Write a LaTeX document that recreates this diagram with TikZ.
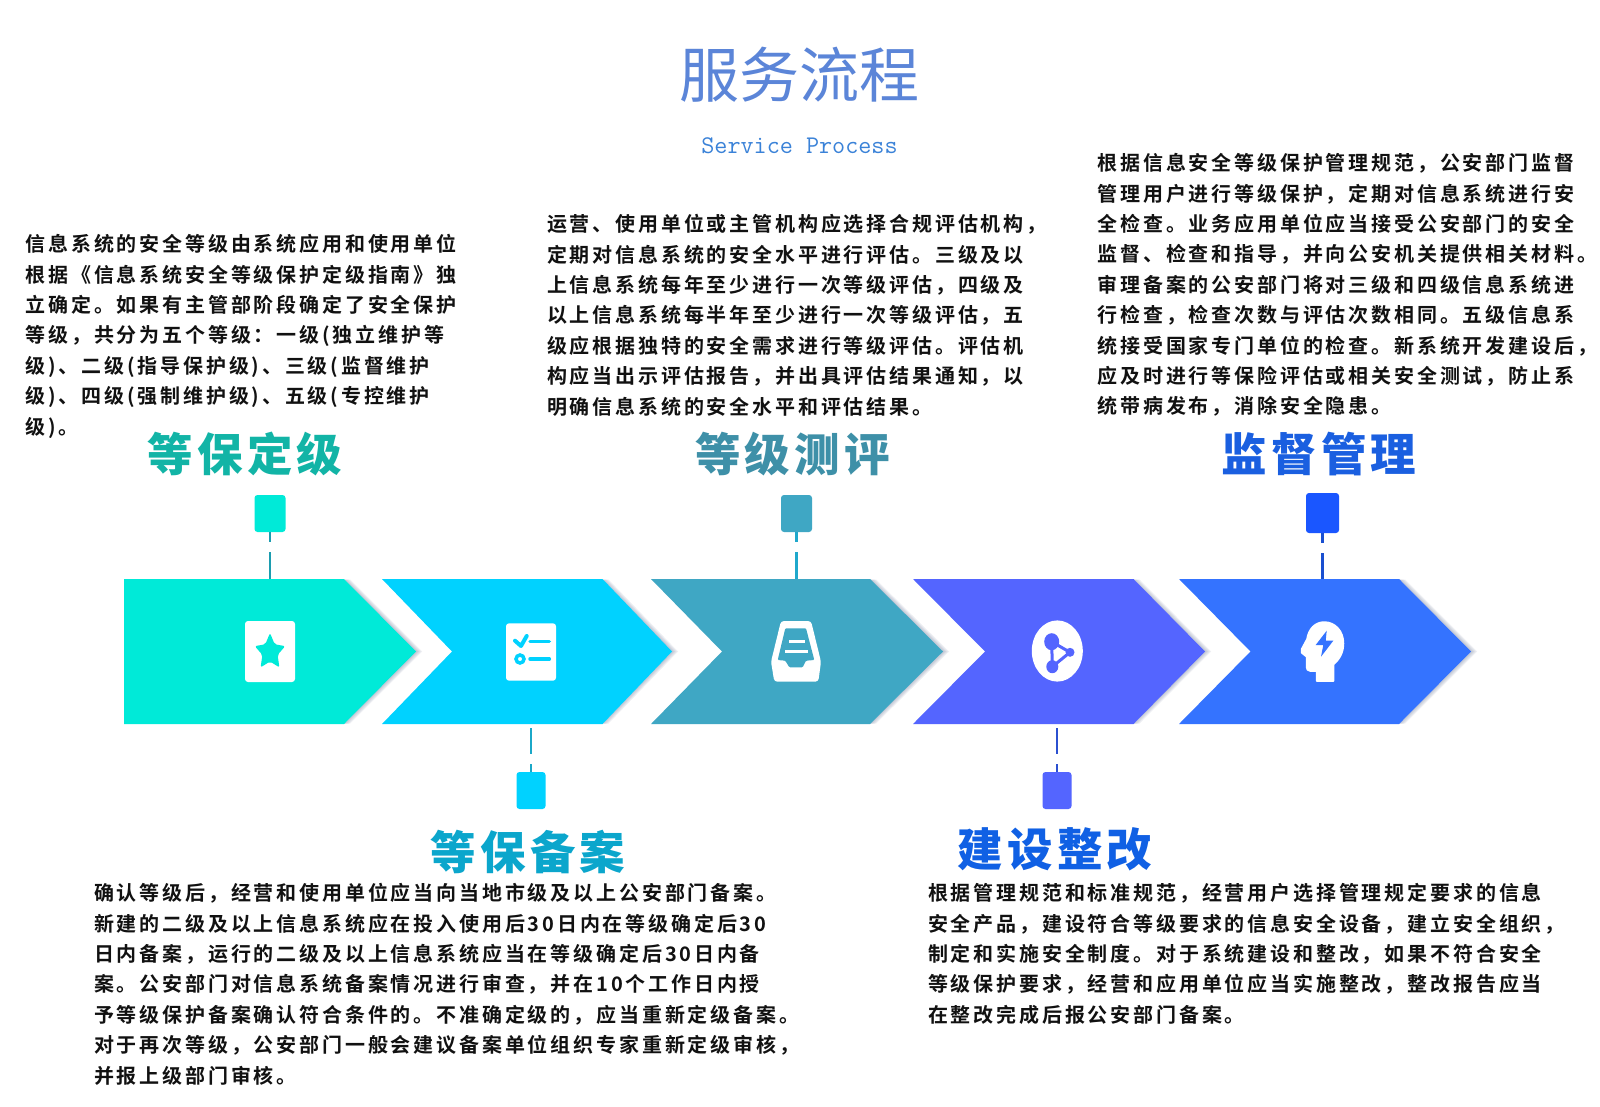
\documentclass[tikz,border=0pt]{standalone}
\usepackage{fontspec}
\setmonofont{Latin Modern Mono}
\newfontfamily\bodyfont[LetterSpace=14.2,BoldFont={Noto Sans CJK SC Bold}]{Noto Sans CJK SC}
\newfontfamily\headfont[LetterSpace=9,BoldFont={Noto Sans CJK SC Black}]{Noto Sans CJK SC}
\newfontfamily\titlefont{Noto Sans CJK SC}
\definecolor{cA}{HTML}{00EAD8}
\definecolor{cB}{HTML}{00D2FF}
\definecolor{cC}{HTML}{3FA7C4}
\definecolor{cD}{HTML}{5465FF}
\definecolor{cE}{HTML}{3473FF}
\definecolor{cEbox}{HTML}{1A56FF}
\definecolor{lA}{HTML}{1C9DB0}
\definecolor{lB}{HTML}{1BA8C8}
\definecolor{lC}{HTML}{1FA8CC}
\definecolor{lD}{HTML}{2B50D0}
\definecolor{lE}{HTML}{1A4FD0}
\definecolor{hA}{HTML}{12B4A6}
\definecolor{hB}{HTML}{0BA6CC}
\definecolor{hC}{HTML}{3E90A8}
\definecolor{hD}{HTML}{1060E4}
\definecolor{hE}{HTML}{1A5FE0}
\definecolor{titleblue}{HTML}{5B85D8}
\definecolor{subblue}{HTML}{3A82D8}
\definecolor{bodyink}{HTML}{111111}
\definecolor{shadowc}{HTML}{5A6A90}
\tikzset{
  para/.style={anchor=north west,align=left,inner sep=0pt,outer sep=0pt,
    font=\bodyfont\bfseries\fontsize{20}{30.4}\selectfont,text=bodyink},
  heading/.style={inner sep=0pt,font=\headfont\bfseries\fontsize{45.5}{52}\selectfont},
  marker/.style={rectangle,rounded corners=3pt,inner sep=0pt,outer sep=0pt},
  stem/.style={line width=2.2pt},
  shade1/.style={fill=shadowc,opacity=.10},
  iconw/.style={fill=white,rounded corners=3pt},
}
\newcommand{\chev}[7]{% name left notch shoulder tip colour anchor-x
  \foreach \d in {6,4.5,3,1.5}{
    \fill[shade1,xshift=\d pt] (#4,579.5)--(#5,651.5)--(#4,723.5)--(#4-6,723.5)--(#4-6,579.5)--cycle;
  }
  \fill[#6] (#2,579)--(#4,579)--(#5,651.5)--(#4,724)--(#2,724)--(#3,651.5)--cycle;
  \coordinate (#1top) at (#7,579);
  \coordinate (#1bot) at (#7,724);
}
\begin{document}
\begin{tikzpicture}[x=1pt,y=-1pt]
\useasboundingbox (0,0) rectangle (1600,1107);
\fill[white] (0,0) rectangle (1600,1107);

% title
\node[text=titleblue,font=\titlefont\fontsize{60}{66}\selectfont,inner sep=0pt] (title) at (799,75) {服务流程};
\node[text=subblue,font=\ttfamily\fontsize{25.4}{28}\selectfont,inner sep=0pt] (subtitle) at (799.5,146) {Service Process};

% chevrons
\chev{aA}{124}{124}{344}{416}{cA}{270}
\chev{aB}{382}{452}{602.5}{672}{cB}{531}
\chev{aC}{651}{722}{870}{943}{cC}{796.5}
\chev{aD}{913}{985}{1133.5}{1205}{cD}{1057}
\chev{aE}{1179}{1250.5}{1399}{1471}{cE}{1322.5}

% markers
\node[marker,fill=cA,minimum width=31pt,minimum height=37pt] (mA) at (270,513.5) {};
\node[marker,fill=cB,minimum width=29pt,minimum height=37pt] (mB) at (531,790.5) {};
\node[marker,fill=cC,minimum width=31pt,minimum height=37pt] (mC) at (796.5,513.5) {};
\node[marker,fill=cD,minimum width=29pt,minimum height=37pt] (mD) at (1057,790.5) {};
\node[marker,fill=cEbox,minimum width=33pt,minimum height=40pt] (mE) at (1322.5,513) {};

% stems
\draw[stem,lA,dash pattern=on 9.5pt off 10.5pt on 40pt] (mA.south) -- (aAtop);
\draw[stem,lC,dash pattern=on 9.5pt off 10.5pt on 40pt] (mC.south) -- (aCtop);
\draw[stem,lE,dash pattern=on 9.5pt off 10.5pt on 40pt] (mE.south) -- (aEtop);
\draw[stem,lB,dash pattern=on 8.5pt off 10pt on 26pt off 10pt] (mB.north) -- (aBbot);
\draw[stem,lD,dash pattern=on 8.5pt off 10pt on 26pt off 10pt] (mD.north) -- (aDbot);

% icon 1: card with star
\fill[iconw] (245,621) rectangle (295,682);
\fill[cA,rounded corners=2pt] (270,633)--(274.7,644.3)--(285.2,646.1)--(277.6,654.9)--(279.4,667.4)--(270,661.5)--(260.6,667.4)--(262.4,654.9)--(254.8,646.1)--(265.3,644.3)--cycle;

% icon 2: checklist
\fill[iconw] (506,623.3) rectangle (556,680.7);
\draw[cB,line width=4pt,line cap=round,line join=round] (515,640.7)--(521,646)--(526.7,636);
\draw[cB,line width=3.5pt,line cap=round] (530,641.3)--(549.3,641.3);
\draw[cB,line width=3.5pt,line cap=round] (530,659)--(549.3,659);
\draw[cB,line width=3.5pt] (520,659) circle[radius=4pt];

% icon 3: tray
\fill[iconw] (781,621)--(811,621)--(821,661.7)--(818.3,681.7)--(774.3,681.7)--(771,661.7)--cycle;
\fill[cC,rounded corners=1pt] (785.3,628.3)--(806,628.3)--(814.3,660)--(806,660.7)--(802.7,667.3)--(789.3,667.3)--(785.3,660.7)--(777.7,660)--cycle;
\fill[white] (789.3,639.6) rectangle (805,643);
\fill[white] (785.3,649.6) rectangle (808.3,653);

% icon 4: share
\fill[white] (1057.3,651) ellipse[x radius=25.5pt,y radius=30.6pt];
\draw[cD,line width=3pt,line join=round] (1051.7,641.7)--(1070,652.3)--(1052.3,666.7)--cycle;
\fill[cD] (1051.7,641.7) ellipse[x radius=7.5pt,y radius=8.5pt];
\fill[cD] (1052.3,666.7) ellipse[x radius=6pt,y radius=6.5pt];
\fill[cD] (1070,652.3) circle[radius=4.5pt];

% icon 5: head
\filldraw[white,line width=1.5pt,line join=round] (1324.3,622) .. controls (1335,622) and (1343.5,631) .. (1343.5,643.3) .. controls (1343.5,652) and (1340,659) .. (1333.5,664.5) -- (1333.5,681) -- (1316.5,681) -- (1316.5,671) -- (1310,671) .. controls (1307.5,671) and (1306.5,669) .. (1306.5,667) -- (1306.5,656.7) -- (1301.5,652.7) -- (1301.5,649.3) -- (1307,639) .. controls (1308.5,629) and (1315,622) .. (1324.3,622) -- cycle;
\fill[cE] (1326.7,630.7)--(1315.7,645)--(1323.3,645)--(1321,656.7)--(1333.3,640.7)--(1325.7,640.7)--cycle;

% headings
\node[heading,text=hA] (hA) at (245,454) {等保定级};
\node[heading,text=hC] (hC) at (792.5,454) {等级测评};
\node[heading,text=hE] (hE) at (1319,454) {监督管理};
\node[heading,text=hB] (hB) at (528,852) {等保备案};
\node[heading,text=hD] (hD) at (1055,849) {建设整改};

% paragraphs
\node[para] (pA) at (25.5,234.5) {信息系统的安全等级由系统应用和使用单位\\根据《信息系统安全等级保护定级指南》独\\立确定。如果有主管部阶段确定了安全保护\\等级，共分为五个等级：一级(独立维护等\\级)、二级(指导保护级)、三级(监督维护\\级)、四级(强制维护级)、五级(专控维护\\级)。};
\node[para] (pC) at (547,214.5) {运营、使用单位或主管机构应选择合规评估机构，\\定期对信息系统的安全水平进行评估。三级及以\\上信息系统每年至少进行一次等级评估，四级及\\以上信息系统每半年至少进行一次等级评估，五\\级应根据独特的安全需求进行等级评估。评估机\\构应当出示评估报告，并出具评估结果通知，以\\明确信息系统的安全水平和评估结果。};
\node[para] (pE) at (1097.5,153.5) {根据信息安全等级保护管理规范，公安部门监督\\管理用户进行等级保护，定期对信息系统进行安\\全检查。业务应用单位应当接受公安部门的安全\\监督、检查和指导，并向公安机关提供相关材料。\\审理备案的公安部门将对三级和四级信息系统进\\行检查，检查次数与评估次数相同。五级信息系\\统接受国家专门单位的检查。新系统开发建设后，\\应及时进行等保险评估或相关安全测试，防止系\\统带病发布，消除安全隐患。};
\node[para] (pB) at (94,883.5) {确认等级后，经营和使用单位应当向当地市级及以上公安部门备案。\\新建的二级及以上信息系统应在投入使用后30日内在等级确定后30\\日内备案，运行的二级及以上信息系统应当在等级确定后30日内备\\案。公安部门对信息系统备案情况进行审查，并在10个工作日内授\\予等级保护备案确认符合条件的。不准确定级的，应当重新定级备案。\\对于再次等级，公安部门一般会建议备案单位组织专家重新定级审核，\\并报上级部门审核。};
\node[para] (pD) at (928,883.5) {根据管理规范和标准规范，经营用户选择管理规定要求的信息\\安全产品，建设符合等级要求的信息安全设备，建立安全组织，\\制定和实施安全制度。对于系统建设和整改，如果不符合安全\\等级保护要求，经营和应用单位应当实施整改，整改报告应当\\在整改完成后报公安部门备案。};
\end{tikzpicture}
\end{document}
